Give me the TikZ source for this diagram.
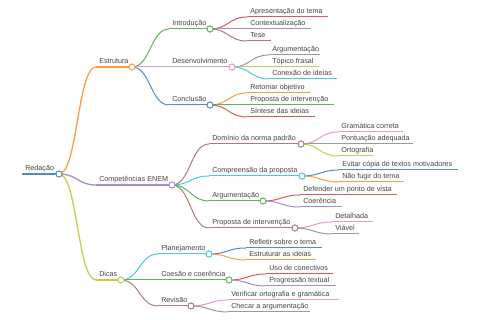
\documentclass[tikz,border=0pt]{standalone}
\usepackage{fontspec}
\setmainfont{Liberation Sans}
\usetikzlibrary{calc}
\definecolor{mblue}{HTML}{4F8FC0}
\definecolor{morange}{HTML}{FF9A45}
\definecolor{mgreen}{HTML}{5DB55D}
\definecolor{mred}{HTML}{DD5A5B}
\definecolor{mpurple}{HTML}{A78CCB}
\definecolor{mbrown}{HTML}{A57F78}
\definecolor{mpink}{HTML}{E996CE}
\definecolor{mgrey}{HTML}{9A9A9A}
\definecolor{molive}{HTML}{C9CA4E}
\definecolor{mcyan}{HTML}{45CBD9}
\definecolor{mtext}{HTML}{444444}
\newcommand\mmnode[7]{%
  \coordinate (#1s) at (#3,#5);
  \coordinate (#1e) at (#4,#5);
  \draw[draw=#2, #6] (#1s) -- (#1e);
  \node[lbl] (#1t) at ($(#1s)+(3,-3)$) {#7};
}
\newcommand\mmlink[4]{\draw[draw=#3, #4] (#1e) to[link] (#2s);}
\newcommand\mmcirc[2]{\node[circ, draw=#2] (#1) at (#1e) {};}
\begin{document}
\begin{tikzpicture}[x=0.75pt,y=-0.75pt,
  lbl/.style={anchor=base west, inner sep=0pt, text=mtext, font=\fontsize{5.4pt}{6pt}\selectfont},
  w0/.style={line width=1.5pt},
  w1/.style={line width=0.95pt},
  w2/.style={line width=0.75pt},
  circ/.style={circle, fill=white, line width=0.75pt, minimum size=4.6pt, inner sep=0pt},
  link/.style={to path={let \p1=(\tikztostart), \p2=(\tikztotarget) in
     .. controls ({0.5*\x1+0.5*\x2},\y1) and ({0.5*\x1+0.5*\x2},\y2) .. (\tikztotarget)}}]
\useasboundingbox[fill=white] (0,0) rectangle (480,320);
% root
\mmnode{R}{mblue}{22}{59}{174}{w0}{Redação}
% level 1
\mmnode{E}{morange}{96}{132}{67}{w1}{Estrutura}
\mmnode{C}{mpurple}{96}{172}{185}{w1}{Competências ENEM}
\mmnode{D}{molive}{96}{121}{280}{w1}{Dicas}
% level 2
\mmnode{I}{mgreen}{169}{210}{29}{w2}{Introdução}
\mmnode{Dv}{mpink}{169}{232}{67}{w2}{Desenvolvimento}
\mmnode{Cn}{mblue}{169}{210}{105}{w2}{Conclusão}
\mmnode{Dm}{mbrown}{209}{301}{144}{w2}{Domínio da norma padrão}
\mmnode{Cp}{mcyan}{209}{302}{176}{w2}{Compreensão da proposta}
\mmnode{Ar}{mgreen}{209}{263}{201}{w2}{Argumentação}
\mmnode{Pr}{mbrown}{209}{295}{228}{w2}{Proposta de intervenção}
\mmnode{Pl}{mcyan}{158}{209}{254}{w2}{Planejamento}
\mmnode{Co}{mgreen}{158}{229}{280}{w2}{Coesão e coerência}
\mmnode{Rv}{mbrown}{158}{191}{306}{w2}{Revisão}
% leaves
\mmnode{Ia}{mred}{247}{328}{17}{w2}{Apresentação do tema}
\mmnode{Ib}{mpurple}{247}{311}{29}{w2}{Contextualização}
\mmnode{Ic}{mbrown}{247}{271}{41}{w2}{Tese}
\mmnode{Da}{mgrey}{269}{320}{55}{w2}{Argumentação}
\mmnode{Db}{molive}{269}{319}{67}{w2}{Tópico frasal}
\mmnode{Dc}{mcyan}{269}{337}{79}{w2}{Conexão de ideias}
\mmnode{Ca}{morange}{247}{310}{93}{w2}{Retomar objetivo}
\mmnode{Cb}{mgreen}{247}{334}{105}{w2}{Proposta de intervenção}
\mmnode{Cc}{mred}{247}{315}{117}{w2}{Síntese das ideias}
\mmnode{Ma}{mpink}{338}{403}{132}{w2}{Gramática correta}
\mmnode{Mb}{mgrey}{338}{413}{144}{w2}{Pontuação adequada}
\mmnode{Mc}{molive}{338}{373}{156}{w2}{Ortografia}
\mmnode{Pa}{mblue}{339}{458}{170}{w2}{Evitar cópia de textos motivadores}
\mmnode{Pb}{morange}{339}{404}{182}{w2}{Não fugir do tema}
\mmnode{Aa}{mred}{300}{397}{195}{w2}{Defender um ponto de vista}
\mmnode{Ab}{mpurple}{300}{342}{207}{w2}{Coerência}
\mmnode{Xa}{mpink}{332}{373}{222}{w2}{Detalhada}
\mmnode{Xb}{mgrey}{332}{359}{234}{w2}{Viável}
\mmnode{La}{mblue}{246}{322}{248}{w2}{Refletir sobre o tema}
\mmnode{Lb}{morange}{246}{316}{260}{w2}{Estruturar as ideias}
\mmnode{Oa}{mred}{266}{333}{274}{w2}{Uso de conectivos}
\mmnode{Ob}{mpurple}{266}{336}{286}{w2}{Progressão textual}
\mmnode{Va}{mpink}{228}{339}{300}{w2}{Verificar ortografia e gramática}
\mmnode{Vb}{mgrey}{228}{310}{312}{w2}{Checar a argumentação}
% links
\mmlink{R}{E}{morange}{w1}
\mmlink{R}{C}{mpurple}{w1}
\mmlink{R}{D}{molive}{w1}
\mmlink{E}{I}{mgreen}{w2}
\mmlink{E}{Dv}{mpink}{w2}
\mmlink{E}{Cn}{mblue}{w2}
\mmlink{C}{Dm}{mbrown}{w2}
\mmlink{C}{Cp}{mcyan}{w2}
\mmlink{C}{Ar}{mgreen}{w2}
\mmlink{C}{Pr}{mbrown}{w2}
\mmlink{D}{Pl}{mcyan}{w2}
\mmlink{D}{Co}{mgreen}{w2}
\mmlink{D}{Rv}{mbrown}{w2}
\mmlink{I}{Ia}{mred}{w2}
\mmlink{I}{Ib}{mpurple}{w2}
\mmlink{I}{Ic}{mbrown}{w2}
\mmlink{Dv}{Da}{mgrey}{w2}
\mmlink{Dv}{Db}{molive}{w2}
\mmlink{Dv}{Dc}{mcyan}{w2}
\mmlink{Cn}{Ca}{morange}{w2}
\mmlink{Cn}{Cb}{mgreen}{w2}
\mmlink{Cn}{Cc}{mred}{w2}
\mmlink{Dm}{Ma}{mpink}{w2}
\mmlink{Dm}{Mb}{mgrey}{w2}
\mmlink{Dm}{Mc}{molive}{w2}
\mmlink{Cp}{Pa}{mblue}{w2}
\mmlink{Cp}{Pb}{morange}{w2}
\mmlink{Ar}{Aa}{mred}{w2}
\mmlink{Ar}{Ab}{mpurple}{w2}
\mmlink{Pr}{Xa}{mpink}{w2}
\mmlink{Pr}{Xb}{mgrey}{w2}
\mmlink{Pl}{La}{mblue}{w2}
\mmlink{Pl}{Lb}{morange}{w2}
\mmlink{Co}{Oa}{mred}{w2}
\mmlink{Co}{Ob}{mpurple}{w2}
\mmlink{Rv}{Va}{mpink}{w2}
\mmlink{Rv}{Vb}{mgrey}{w2}
% circles
\mmcirc{R}{mblue}
\mmcirc{E}{morange}
\mmcirc{C}{mpurple}
\mmcirc{D}{molive}
\mmcirc{I}{mgreen}
\mmcirc{Dv}{mpink}
\mmcirc{Cn}{mblue}
\mmcirc{Dm}{mbrown}
\mmcirc{Cp}{mcyan}
\mmcirc{Ar}{mgreen}
\mmcirc{Pr}{mbrown}
\mmcirc{Pl}{mcyan}
\mmcirc{Co}{mgreen}
\mmcirc{Rv}{mbrown}
\end{tikzpicture}
\end{document}
